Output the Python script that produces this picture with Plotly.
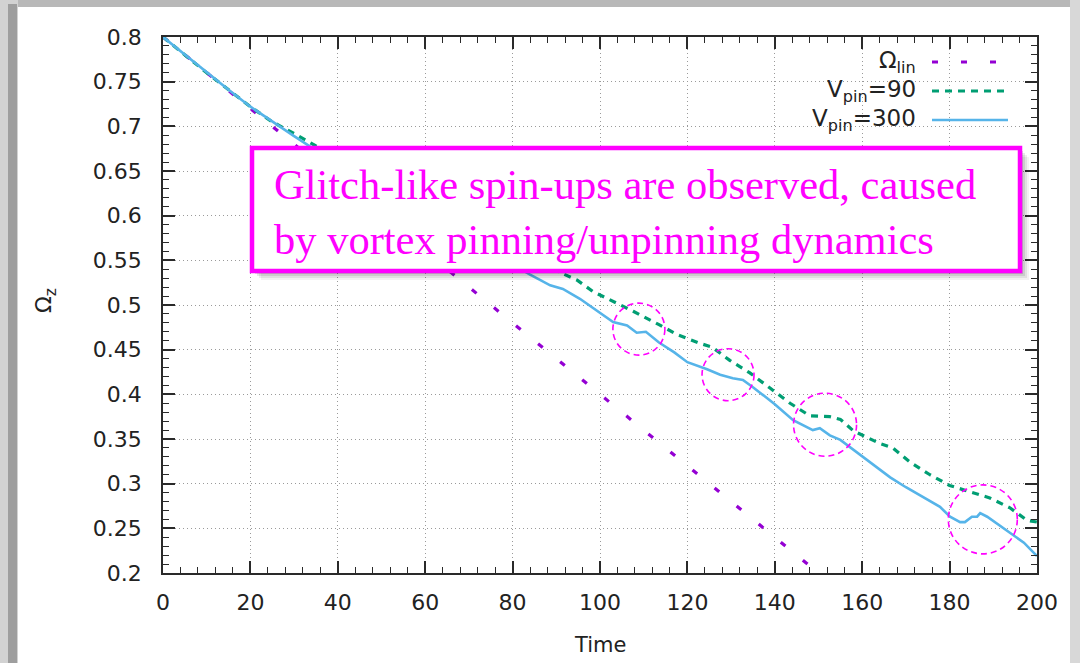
import plotly.graph_objects as go

# ---- data ---------------------------------------------------------------
# linear spin-down reference
t_lin = [0, 150]
omega_lin = [0.8, 0.2]

# V_pin = 90
t_v90 = [0, 10, 20, 25, 30, 35, 40, 50, 60, 70, 80, 91.5, 94.7, 98.4, 103.9,
         107.6, 113.5, 117.6, 122.9, 125.6, 129.7, 134.3, 138.9, 143.5, 148,
         152.6, 155, 158, 164, 167, 171, 175.5, 180, 184.7, 189.2, 193.8,
         197.7, 200]
omega_v90 = [0.8, 0.76, 0.722, 0.705, 0.692, 0.678, 0.666, 0.641, 0.615,
             0.589, 0.562, 0.535, 0.528, 0.515, 0.502, 0.493, 0.478, 0.467,
             0.457, 0.453, 0.438, 0.424, 0.407, 0.390, 0.376, 0.375, 0.372,
             0.359, 0.345, 0.340, 0.324, 0.310, 0.298, 0.291, 0.284, 0.273,
             0.259, 0.257]

# V_pin = 300
t_v300 = [0, 5, 10, 15, 20, 25, 30, 35, 40, 50, 60, 70, 80, 84, 88.6, 91.5,
          95.4, 100.7, 103, 106.2, 108.4, 110.5, 113.5, 117, 120, 124.5,
          127.5, 130.4, 132.7, 135, 140, 144.2, 148.7, 150.3, 152.6, 155,
          160.2, 161.8, 166.4, 170, 174, 177.8, 180.1, 182.4, 183.5, 185.1,
          186.3, 187, 188.6, 191, 194.5, 197, 200]
omega_v300 = [0.8, 0.78, 0.76, 0.741, 0.722, 0.705, 0.689, 0.673, 0.659,
              0.632, 0.603, 0.575, 0.546, 0.534, 0.522, 0.518, 0.507, 0.489,
              0.481, 0.477, 0.469, 0.470, 0.458, 0.447, 0.436, 0.428, 0.422,
              0.418, 0.416, 0.408, 0.389, 0.371, 0.360, 0.362, 0.354, 0.349,
              0.330, 0.324, 0.307, 0.296, 0.285, 0.274, 0.263, 0.257, 0.257,
              0.263, 0.263, 0.267, 0.263, 0.255, 0.243, 0.234, 0.219]

# glitch locations highlighted with circles
glitch_t = [108.9, 129.3, 151.5, 187.6]
glitch_omega = [0.473, 0.422, 0.366, 0.260]

x_ticks = [0, 20, 40, 60, 80, 100, 120, 140, 160, 180, 200]
y_ticks = [0.2, 0.25, 0.3, 0.35, 0.4, 0.45, 0.5, 0.55, 0.6, 0.65, 0.7, 0.75, 0.8]
y_tick_text = ["0.2", "0.25", "0.3", "0.35", "0.4", "0.45", "0.5", "0.55",
               "0.6", "0.65", "0.7", "0.75", "0.8"]

# ---- styling ------------------------------------------------------------
WIDTH, HEIGHT = 1080, 663
ML, MR, MT, MB = 163, 43, 37, 90
PW = WIDTH - ML - MR
PH = HEIGHT - MT - MB

C_LIN = "#9400d3"
C_V90 = "#009e73"
C_V300 = "#56b4e9"
MAGENTA = "#ff00ff"
AX = "#2a2a2a"
FONT = "DejaVu Sans"


def fx(px):
    return (px - ML) / PW


def fy(py):
    return (HEIGHT - MB - py) / PH


fig = go.Figure()
fig.add_trace(go.Scatter(x=t_lin, y=omega_lin, mode="lines", showlegend=False,
                         line=dict(color=C_LIN, width=3.2, dash="6px,22.5px")))
fig.add_trace(go.Scatter(x=t_v90, y=omega_v90, mode="lines", showlegend=False,
                         line=dict(color=C_V90, width=3.2, dash="7px,6px")))
fig.add_trace(go.Scatter(x=t_v300, y=omega_v300, mode="lines", showlegend=False,
                         line=dict(color=C_V300, width=2.6)))

shapes = []

# window frame around the figure
shapes += [
    dict(type="rect", xref="paper", yref="paper", layer="below",
         x0=fx(0), x1=fx(WIDTH), y0=fy(0), y1=fy(7),
         fillcolor="#b8b8b8", line=dict(width=0)),
    dict(type="rect", xref="paper", yref="paper", layer="below",
         x0=fx(0), x1=fx(18), y0=fy(0), y1=fy(HEIGHT),
         fillcolor="#d2d2d2", line=dict(width=0)),
    dict(type="rect", xref="paper", yref="paper", layer="below",
         x0=fx(8), x1=fx(17), y0=fy(4), y1=fy(HEIGHT),
         fillcolor="#9e9e9e", line=dict(width=0)),
    dict(type="rect", xref="paper", yref="paper", layer="below",
         x0=fx(1070), x1=fx(WIDTH), y0=fy(0), y1=fy(HEIGHT),
         fillcolor="#d8d8d8", line=dict(width=0)),
]

# legend samples (key drawn to the right of the labels)
legend_rows = [62, 91, 120]
legend_styles = [
    dict(color=C_LIN, width=3.2, dash="6px,23px"),
    dict(color=C_V90, width=3.2, dash="7px,6px"),
    dict(color=C_V300, width=2.6),
]
for row, style in zip(legend_rows, legend_styles):
    shapes.append(dict(type="line", xref="paper", yref="paper",
                       x0=fx(932), x1=fx(1008), y0=fy(row), y1=fy(row),
                       line=style))

# dashed circles around the glitches
radii = [26, 26, 31.5, 34.5]
for t, om, r in zip(glitch_t, glitch_omega, radii):
    shapes.append(dict(type="circle", xref="x", yref="y",
                       xsizemode="pixel", ysizemode="pixel",
                       xanchor=t, yanchor=om, x0=-r, x1=r, y0=-r, y1=r,
                       line=dict(color=MAGENTA, width=1.6, dash="6px,4px"),
                       layer="above"))

# callout box with soft drop shadow
bx0, bx1, by0, by1 = 252, 1020, 148, 271
for k, a in [(9, 0.05), (7, 0.07), (5, 0.09), (3, 0.12)]:
    shapes.append(dict(type="rect", xref="paper", yref="paper", layer="above",
                       x0=fx(bx0 + k), x1=fx(bx1 + k), y0=fy(by1 + k), y1=fy(by0 + k),
                       fillcolor=f"rgba(0,0,0,{a})", line=dict(width=0)))
shapes.append(dict(type="rect", xref="paper", yref="paper", layer="above",
                   x0=fx(bx0), x1=fx(bx1), y0=fy(by1), y1=fy(by0),
                   fillcolor="white", line=dict(color=MAGENTA, width=4.5)))

annotations = [
    dict(xref="paper", yref="paper", x=fx(272), y=fy(212),
         xanchor="left", yanchor="middle", align="left", showarrow=False,
         text="Glitch-like spin-ups are observed, caused<br>by vortex pinning/unpinning dynamics",
         font=dict(family="Liberation Serif", size=42.5, color=MAGENTA)),
    dict(xref="paper", yref="paper", x=fx(600), y=fy(645),
         xanchor="center", yanchor="middle", showarrow=False,
         text="Time", font=dict(family=FONT, size=21, color="#222")),
    dict(xref="paper", yref="paper", x=fx(46), y=fy(300),
         xanchor="center", yanchor="middle", showarrow=False, textangle=-90,
         text="Ω<sub>z</sub>", font=dict(family=FONT, size=22, color="#222")),
]
legend_labels = ["Ω<sub>lin</sub>", "V<sub>pin</sub>=90", "V<sub>pin</sub>=300"]
for row, label in zip(legend_rows, legend_labels):
    annotations.append(dict(xref="paper", yref="paper", x=fx(918), y=fy(row),
                            xanchor="right", yanchor="middle", showarrow=False,
                            text=label, font=dict(family=FONT, size=23, color="#222")))

axis_common = dict(
    showline=True, linecolor=AX, linewidth=1.6, mirror="allticks",
    ticks="inside", ticklen=12, tickwidth=1.6, tickcolor=AX,
    showgrid=True, gridcolor="#9a9a9a", gridwidth=1, griddash="1px,3px",
    zeroline=False, tickfont=dict(family=FONT, size=22, color="#222"),
)

fig.update_layout(
    width=WIDTH, height=HEIGHT,
    margin=dict(l=ML, r=MR, t=MT, b=MB, pad=0),
    paper_bgcolor="white", plot_bgcolor="white",
    showlegend=False,
    xaxis=dict(range=[0, 200], tickvals=x_ticks, ticklabelstandoff=9,
               minor=dict(dtick=4, ticks="inside", ticklen=6, tickwidth=1.4,
                          tickcolor=AX, showgrid=False),
               **axis_common),
    yaxis=dict(range=[0.2, 0.8], tickvals=y_ticks, ticktext=y_tick_text,
               ticklabelstandoff=15,
               minor=dict(dtick=0.01, ticks="inside", ticklen=6, tickwidth=1.4,
                          tickcolor=AX, showgrid=False),
               **axis_common),
    shapes=shapes,
    annotations=annotations,
)

fig.write_html("out.html")
